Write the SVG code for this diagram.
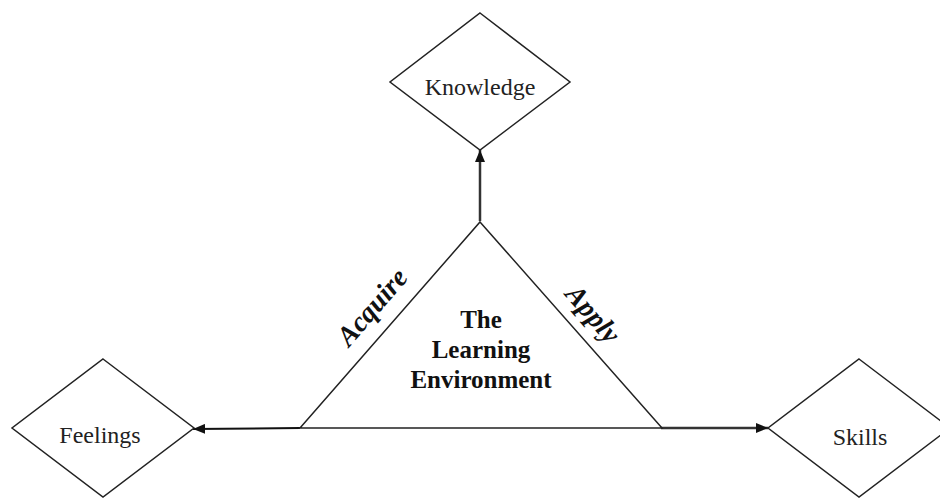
<svg xmlns="http://www.w3.org/2000/svg" width="940" height="498" viewBox="0 0 940 498">
<style>
.node{fill:#fff;stroke:#222;stroke-width:1.5}
.lbl{font-family:"Liberation Serif",serif;font-size:24px;fill:#222;text-anchor:middle}
.title{font-family:"Liberation Serif",serif;font-size:25px;font-weight:bold;fill:#111;text-anchor:middle}
.verb{font-family:"Liberation Serif",serif;font-size:28px;font-weight:bold;font-style:italic;fill:#111;text-anchor:middle}
.conn{stroke:#111;stroke-width:2;fill:none}
</style>
<defs>
<marker id="ah" viewBox="0 0 12 10" refX="12" refY="5" markerWidth="12" markerHeight="10" orient="auto" markerUnits="userSpaceOnUse">
<path d="M0,0 L12,5 L0,10 z" fill="#111"/>
</marker>
</defs>
<rect width="940" height="498" fill="#fff"/>
<g id="connectors">
<line class="conn" x1="480" y1="221" x2="480" y2="150" marker-end="url(#ah)" style="stroke-width:2.5;stroke:#333"/>
<line class="conn" x1="300" y1="428" x2="193" y2="429" marker-end="url(#ah)"/>
<line class="conn" x1="661" y1="428" x2="768" y2="428" marker-end="url(#ah)" style="stroke-width:2.5;stroke:#333"/>
</g>
<g id="knowledge">
<polygon class="node" points="480,13 570,82 480,150 390,82"/>
<text class="lbl" x="480" y="95">Knowledge</text>
</g>
<g id="feelings">
<polygon class="node" points="103,359 194,428 103,497 12,428"/>
<text class="lbl" x="100" y="443">Feelings</text>
</g>
<g id="skills">
<polygon class="node" points="859,359 950,428 859,497 768,428"/>
<text class="lbl" x="860" y="445">Skills</text>
</g>
<g id="environment">
<polygon class="node" points="480,222 662,428 300,428"/>
<text class="title" x="481" y="328">The</text>
<text class="title" x="481" y="358">Learning</text>
<text class="title" x="481" y="388">Environment</text>
<text class="verb" transform="translate(379,313) rotate(-49)">Acquire</text>
<text class="verb" transform="translate(586,320) rotate(49)">Apply</text>
</g>
</svg>
